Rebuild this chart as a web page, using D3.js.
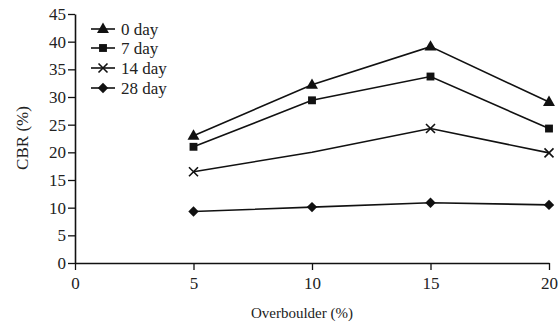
<!DOCTYPE html>
<html>
<head>
<meta charset="utf-8">
<script src="https://cdn.jsdelivr.net/npm/d3@7"></script>
<style>
  body { margin: 0; background: #fff; }
  svg text { font-family: "Liberation Serif", "Times New Roman", serif; fill: #222; }
</style>
</head>
<body>
<svg id="chart" width="560" height="327"></svg>
<script>
// Overboulder content (%) on the x axis
const overboulder = [5, 10, 15, 20];
const seriesNames = ["0 day", "7 day", "14 day", "28 day"];
// CBR (%) per curing time
const cbr0 = [23, 32.2, 39.1, 29.1];
const cbr7 = [21, 29.4, 33.7, 24.3];
const cbr14 = [16.5, 20, 24.3, 19.9];
const cbr28 = [9.3, 10.1, 10.9, 10.5];
// points where a symbol is plotted (the 14 day curve has no symbol at 10 %)
const shown14 = [true, false, true, true];
const xTicks = [0, 5, 10, 15, 20];
const yTicks = [0, 5, 10, 15, 20, 25, 30, 35, 40, 45];

const svg = d3.select("#chart");
const x = d3.scaleLinear().domain([0, 20]).range([75, 549]);
const y = d3.scaleLinear().domain([0, 45]).range([263, 14]);

const stroke = "#111";
const tickFont = 17;

// axes
const yAxis = d3.axisLeft(y).tickValues(yTicks).tickSize(7).tickPadding(2).tickSizeOuter(0);
const gy = svg.append("g").attr("transform", `translate(${x(0)},0)`).call(yAxis);
const xAxis = d3.axisBottom(x).tickValues(xTicks).tickSize(7).tickPadding(7).tickSizeOuter(0);
const gx = svg.append("g").attr("transform", `translate(0,${y(0)})`).call(xAxis);
[gy, gx].forEach(g => {
  g.select(".domain").attr("stroke", stroke).attr("stroke-width", 1.6);
  g.selectAll(".tick line").attr("stroke", stroke).attr("stroke-width", 1.3);
  g.selectAll(".tick text").attr("font-size", tickFont).attr("fill", "#222")
    .attr("font-family", '"Liberation Serif", serif');
});

// axis titles
svg.append("text").attr("x", 302).attr("y", 318).attr("text-anchor", "middle")
  .attr("font-size", 15).text("Overboulder (%)");
svg.append("text").attr("transform", `translate(28,138) rotate(-90)`)
  .attr("text-anchor", "middle").attr("font-size", 17).text("CBR (%)");

// symbols: triangle, square, x, diamond
const shapes = [d3.symbolTriangle, d3.symbolSquare];
const sizes = [62, 62];
function drawSymbol(g, i, cx, cy) {
  if (i === 2) {
    const s = 4.5;
    g.append("path")
      .attr("d", `M${cx - s},${cy - s}L${cx + s},${cy + s}M${cx - s},${cy + s}L${cx + s},${cy - s}`)
      .attr("stroke", stroke).attr("stroke-width", 1.6).attr("fill", "none");
  } else if (i === 3) {
    const r = 5.2;
    g.append("path")
      .attr("d", `M${cx},${cy - r}L${cx + r},${cy}L${cx},${cy + r}L${cx - r},${cy}Z`)
      .attr("fill", stroke);
  } else {
    g.append("path")
      .attr("d", d3.symbol().type(shapes[i]).size(sizes[i])())
      .attr("transform", `translate(${cx},${cy + (i === 0 ? 0.5 : 0)})`)
      .attr("fill", stroke);
  }
}

const series = [cbr0, cbr7, cbr14, cbr28];
const line = d3.line().x((d, i) => x(overboulder[i])).y(d => y(d));
series.forEach((vals, si) => {
  const g = svg.append("g");
  g.append("path").datum(vals).attr("d", line)
    .attr("fill", "none").attr("stroke", stroke).attr("stroke-width", 1.6);
  vals.forEach((v, i) => {
    if (si === 2 && !shown14[i]) return;
    drawSymbol(g, si, x(overboulder[i]), y(v));
  });
});

// legend
const legendY = [29, 48, 68, 88];
seriesNames.forEach((name, i) => {
  const g = svg.append("g");
  g.append("line").attr("x1", 91).attr("x2", 115).attr("y1", legendY[i]).attr("y2", legendY[i])
    .attr("stroke", stroke).attr("stroke-width", 1.6);
  drawSymbol(g, i, 103, legendY[i]);
  g.append("text").attr("x", 121).attr("y", legendY[i] + 6).attr("font-size", 17).text(name);
});
</script>
</body>
</html>
